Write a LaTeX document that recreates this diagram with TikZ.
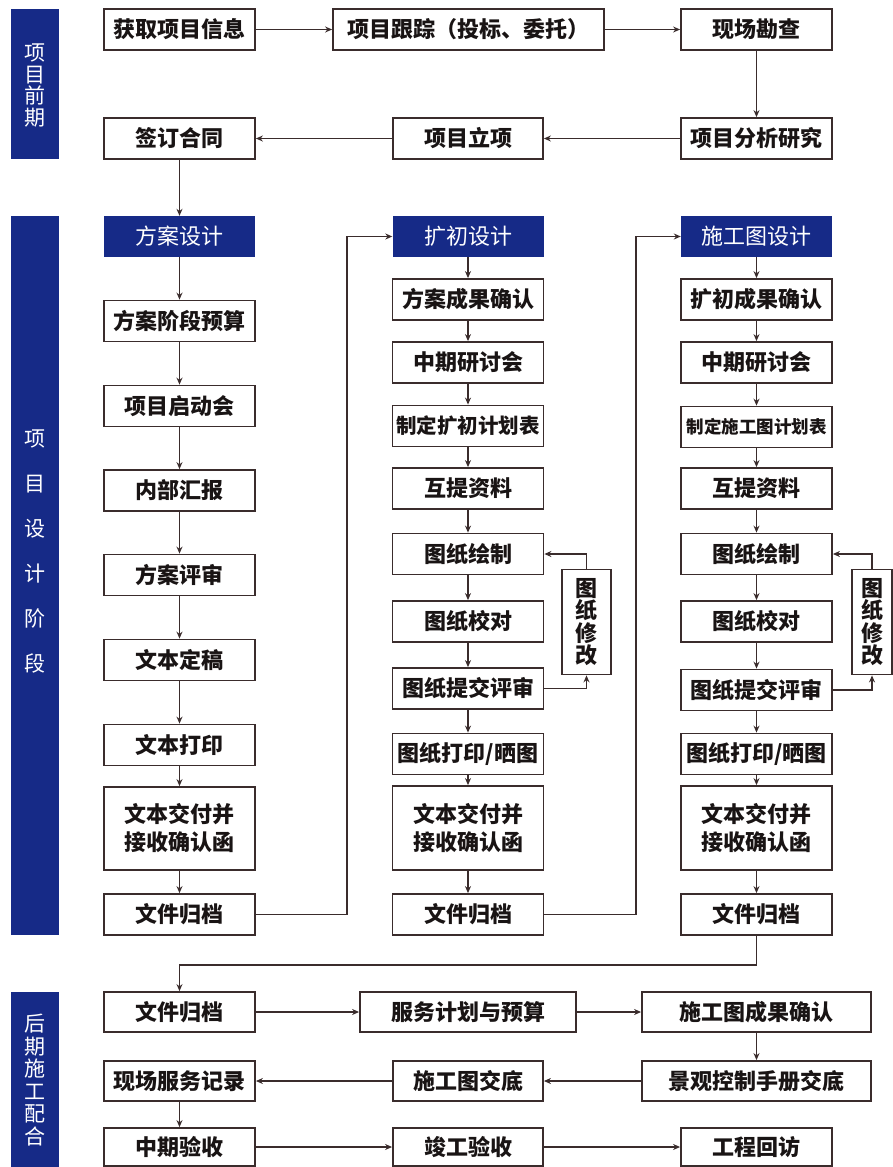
\documentclass[tikz,border=0pt]{standalone}
\usepackage{fontspec}
\newfontfamily\cjk{Noto Sans CJK SC}
\usetikzlibrary{arrows.meta}
\definecolor{barblue}{RGB}{22,42,135}
\definecolor{linecol}{RGB}{58,44,44}
\definecolor{txt}{RGB}{25,20,20}
\begin{document}
\begin{tikzpicture}[x=1pt,y=-1pt,
  box/.style={draw=linecol, line width=1.8pt, fill=white, inner sep=0pt, align=center, text=txt,
    font=\cjk\bfseries\fontsize{22}{28}\selectfont},
  sbox/.style={box, minimum width=151pt, minimum height=41pt},
  head/.style={fill=barblue, inner sep=0pt, text=white, font=\cjk\fontsize{22}{26}\selectfont,
    minimum width=151pt, minimum height=41pt},
  modbox/.style={box, minimum height=105pt, font=\cjk\bfseries\fontsize{22}{22.5}\selectfont},
  bar/.style={fill=barblue, inner sep=0pt, minimum width=48pt},
  bartext/.style={text=white, align=center, inner sep=0pt},
  conn/.style={draw=linecol, line width=1.3pt, -{Stealth[length=7pt,width=6pt]}},
  line/.style={draw=linecol, line width=1.3pt}
]
\useasboundingbox (0,0) rectangle (893,1167);
% section bars
\node[bar, minimum height=150pt] (sec1) at (35,84) {};
\node[bar, minimum height=719pt] (sec2) at (35,575.5) {};
\node[bar, minimum height=176pt] (sec3) at (35,1080) {};
\node[bartext, font=\cjk\fontsize{21}{21.5}\selectfont] (t1) at (35,85.5) {项\\目\\前\\期};
\node[bartext, font=\cjk\fontsize{21}{45}\selectfont] (t2) at (35,551.5) {项\\目\\设\\计\\阶\\段};
\node[bartext, font=\cjk\fontsize{21}{22.5}\selectfont] (t3) at (35,1080) {后\\期\\施\\工\\配\\合};

% stage 1
\node[sbox] (info) at (179.5,29.5) {获取项目信息};
\node[sbox, minimum width=271pt] (track) at (468.5,29.5) {项目跟踪（投标、委托）};
\node[sbox] (survey) at (756.5,29.5) {现场勘查};
\node[sbox] (contract) at (179.5,138.5) {签订合同};
\node[sbox, minimum width=150pt] (approve) at (468,138.5) {项目立项};
\node[sbox] (analysis) at (756.5,138.5) {项目分析研究};
\draw[conn] (info) -- (track);
\draw[conn] (track) -- (survey);
\draw[conn] (survey) -- (analysis);
\draw[conn] (analysis) -- (approve);
\draw[conn] (approve) -- (contract);

% column 1
\node[head] (head1) at (179.5,236.5) {方案设计};
\node[sbox] (c1a) at (179.5,321) {方案阶段预算};
\node[sbox] (c1b) at (179.5,406) {项目启动会};
\node[sbox] (c1c) at (179.5,490.5) {内部汇报};
\node[sbox] (c1d) at (179.5,575) {方案评审};
\node[sbox] (c1e) at (179.5,660) {文本定稿};
\node[sbox] (c1f) at (179.5,745) {文本打印};
\node[sbox, minimum height=83pt] (c1g) at (179.5,828.5) {文本交付并\\接收确认函};
\node[sbox] (arch1) at (179.5,914.5) {文件归档};
\draw[conn] (contract) -- (head1);
\draw[conn] (head1) -- (c1a);
\draw[conn] (c1a) -- (c1b);
\draw[conn] (c1b) -- (c1c);
\draw[conn] (c1c) -- (c1d);
\draw[conn] (c1d) -- (c1e);
\draw[conn] (c1e) -- (c1f);
\draw[conn] (c1f) -- (c1g);
\draw[conn] (c1g) -- (arch1);

% column 2
\node[head] (head2) at (468,236.5) {扩初设计};
\node[sbox] (c2a) at (468,299.5) {方案成果确认};
\node[sbox] (c2b) at (468,362.5) {中期研讨会};
\node[sbox, font=\cjk\bfseries\fontsize{20.5}{24}\selectfont] (c2c) at (468,426) {制定扩初计划表};
\node[sbox] (c2d) at (468,488.5) {互提资料};
\node[sbox] (draw2) at (468,554) {图纸绘制};
\node[sbox] (check2) at (468,621.5) {图纸校对};
\node[sbox] (review2) at (468,688.5) {图纸提交评审};
\node[sbox] (print2) at (468,754) {图纸打印/晒图};
\node[sbox, minimum height=84pt] (deliver2) at (468,828) {文本交付并\\接收确认函};
\node[sbox] (arch2) at (468,914.5) {文件归档};
\node[modbox, minimum width=49pt] (mod2) at (586.5,622) {图\\纸\\修\\改};
\coordinate (j1) at (347,914.5);
\draw[conn] (arch1.east) -- (j1) |- (head2.west);
\draw[conn] (head2) -- (c2a);
\draw[conn] (c2a) -- (c2b);
\draw[conn] (c2b) -- (c2c);
\draw[conn] (c2c) -- (c2d);
\draw[conn] (c2d) -- (draw2);
\draw[conn] (draw2) -- (check2);
\draw[conn] (check2) -- (review2);
\draw[conn] (review2) -- (print2);
\draw[conn] (print2) -- (deliver2);
\draw[conn] (deliver2) -- (arch2);
\draw[conn] (review2.east) -| (mod2.south);
\draw[conn] (mod2.north) |- (draw2.east);

% column 3
\node[head] (head3) at (756.5,236.5) {施工图设计};
\node[sbox] (c3a) at (756.5,299.5) {扩初成果确认};
\node[sbox] (c3b) at (756.5,362.5) {中期研讨会};
\node[sbox, font=\cjk\bfseries\fontsize{17.5}{22}\selectfont] (c3c) at (756.5,427) {制定施工图计划表};
\node[sbox] (c3d) at (756.5,488.5) {互提资料};
\node[sbox] (draw3) at (756.5,554) {图纸绘制};
\node[sbox] (check3) at (756.5,621.5) {图纸校对};
\node[sbox] (review3) at (756.5,690) {图纸提交评审};
\node[sbox] (print3) at (756.5,754) {图纸打印/晒图};
\node[sbox, minimum height=84pt] (deliver3) at (756.5,828) {文本交付并\\接收确认函};
\node[sbox] (arch3) at (756.5,914.5) {文件归档};
\node[modbox, minimum width=40pt] (mod3) at (872,622) {图\\纸\\修\\改};
\coordinate (j2) at (636,914.5);
\draw[conn] (arch2.east) -- (j2) |- (head3.west);
\draw[conn] (head3) -- (c3a);
\draw[conn] (c3a) -- (c3b);
\draw[conn] (c3b) -- (c3c);
\draw[conn] (c3c) -- (c3d);
\draw[conn] (c3d) -- (draw3);
\draw[conn] (draw3) -- (check3);
\draw[conn] (check3) -- (review3);
\draw[conn] (review3) -- (print3);
\draw[conn] (print3) -- (deliver3);
\draw[conn] (deliver3) -- (arch3);
\draw[conn] (review3.east) -| (mod3.south);
\draw[conn] (mod3.north) |- (draw3.east);

% stage 3
\node[sbox, minimum height=40pt] (arch4) at (179.5,1012) {文件归档};
\node[sbox, minimum width=216pt, minimum height=40pt] (plan) at (468,1012) {服务计划与预算};
\node[sbox, minimum width=229pt, minimum height=40pt] (confirm) at (756.5,1012) {施工图成果确认};
\node[sbox, minimum height=40pt] (site) at (179.5,1081) {现场服务记录};
\node[sbox, minimum width=150pt, minimum height=40pt] (handover) at (468,1081) {施工图交底};
\node[sbox, minimum width=229pt, minimum height=40pt] (manual) at (756.5,1081) {景观控制手册交底};
\node[sbox, minimum height=38pt] (midacc) at (179.5,1147) {中期验收};
\node[sbox, minimum width=150pt, minimum height=38pt] (final) at (468,1147) {竣工验收};
\node[sbox, minimum height=38pt] (revisit) at (756.5,1147) {工程回访};
\coordinate (turn) at (756.5,965);
\draw[conn] (arch3.south) -- (turn) -| (arch4.north);
\draw[conn] (arch4) -- (plan);
\draw[conn] (plan) -- (confirm);
\draw[conn] (confirm) -- (manual);
\draw[conn] (manual) -- (handover);
\draw[conn] (handover) -- (site);
\draw[conn] (site) -- (midacc);
\draw[conn] (midacc) -- (final);
\draw[conn] (final) -- (revisit);
\end{tikzpicture}
\end{document}
